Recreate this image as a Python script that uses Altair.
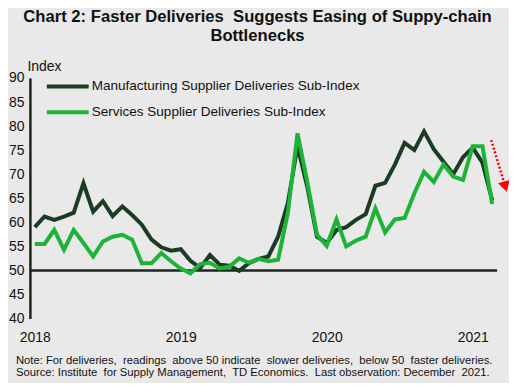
import altair as alt
import pandas as pd

# ---------------- data ----------------
series_names = [
    "Manufacturing Supplier Deliveries Sub-Index",
    "Services Supplier Deliveries Sub-Index",
]
series_colors = ["#1b3c24", "#1cb436"]

# monthly, Jan 2018 .. Dec 2021
manufacturing = [
    59.0, 61.2, 60.5, 61.2, 62.0, 68.1, 62.2, 64.4, 61.3, 63.3, 61.5, 59.5,
    56.4, 54.8, 54.1, 54.4, 52.0, 50.5, 53.2, 51.2, 51.0, 49.9, 51.5, 52.4,
    52.9, 57.0, 64.0, 75.8, 67.4, 57.0, 55.7, 58.4, 59.0, 60.5, 61.7, 67.6,
    68.2, 72.0, 76.5, 75.0, 78.9, 75.2, 72.6, 70.0, 73.5, 75.5, 72.4, 64.6,
]
services = [
    55.5, 55.5, 58.4, 54.3, 58.4, 55.7, 52.9, 56.0, 57.0, 57.4, 56.4, 51.5,
    51.5, 53.6, 51.9, 50.4, 49.4, 51.3, 51.6, 50.4, 50.8, 52.5, 51.6, 52.4,
    51.9, 52.2, 61.9, 78.5, 68.4, 57.4, 55.1, 60.6, 55.0, 56.2, 57.0, 62.9,
    57.9, 60.6, 60.9, 66.0, 70.5, 68.4, 72.0, 69.5, 68.8, 75.8, 75.8, 63.8,
]

x_tick_positions = [0, 15, 30, 45]
x_tick_labels = ["2018", "2019", "2020", "2021"]
y_ticks = [40, 45, 50, 55, 60, 65, 70, 75, 80, 85, 90]
baseline_value = [50]

arrow_x = [46.9, 48.35]
arrow_y = [77.1, 67.4]

title_lines = [
    "Chart 2: Faster Deliveries\u00a0 Suggests Easing of Suppy-chain",
    "Bottlenecks",
]
note_lines = [
    "Note: For deliveries,\u00a0 readings\u00a0 above 50 indicate\u00a0 slower deliveries,\u00a0 below 50\u00a0 faster deliveries.",
    "Source: Institute\u00a0 for Supply Management,\u00a0 TD Economics.\u00a0 Last observation: December\u00a0 2021.",
]

# ---------------- build ----------------
rows = []
for name, vals in zip(series_names, [manufacturing, services]):
    for i, v in enumerate(vals):
        rows.append({"month": i, "value": v, "series": name})
df = pd.DataFrame(rows)

W, H = 469, 241.5
FONT = "Liberation Sans"
AXIS_COLOR = "#1c261a"
TEXT_COLOR = "#111111"

x_scale = alt.Scale(domain=[-0.5, 47.5], nice=False, zero=False)
y_scale = alt.Scale(domain=[40, 90], nice=False, zero=False)
color_scale = alt.Scale(domain=series_names, range=series_colors)

label_expr = " : ".join(
    f"datum.value == {p} ? '{l}'" for p, l in zip(x_tick_positions, x_tick_labels)
) + " : ''"

x_axis = alt.Axis(
    values=x_tick_positions, labelExpr=label_expr, domain=False, ticks=False,
    grid=False, labelFontSize=14, labelPadding=12, labelColor=TEXT_COLOR,
    title=None, labelFont=FONT, labelOverlap=False,
)
y_axis = alt.Axis(
    values=y_ticks, tickCount=len(y_ticks), domain=True, domainColor=AXIS_COLOR,
    domainWidth=2.5, ticks=False, grid=False, labelFontSize=14, labelPadding=6,
    labelColor=TEXT_COLOR, labelFont=FONT, labelOverlap=False,
    title="Index", titleAngle=0, titleAlign="left", titleBaseline="alphabetic",
    titleX=-3, titleY=-7.5, titleFontSize=14, titleFontWeight="normal",
    titleColor=TEXT_COLOR, titleFont=FONT,
)

base_rule = alt.Chart(pd.DataFrame({"v": baseline_value})).mark_rule(
    color=AXIS_COLOR, strokeWidth=2.5
).encode(y=alt.Y("v:Q", scale=y_scale, axis=y_axis))

lines = alt.Chart(df).mark_line(strokeWidth=4).encode(
    x=alt.X("month:Q", scale=x_scale, axis=x_axis),
    y=alt.Y("value:Q", scale=y_scale, axis=y_axis),
    color=alt.Color("series:N", scale=color_scale, legend=None),
)

arrow_df = pd.DataFrame({"x": [arrow_x[0]], "y": [arrow_y[0]],
                         "x2": [arrow_x[1]], "y2": [arrow_y[1]]})
arrow_line = alt.Chart(arrow_df).mark_rule(
    color="#ff0000", strokeWidth=2.5, strokeDash=[2, 2]
).encode(
    x=alt.X("x:Q", scale=x_scale), y=alt.Y("y:Q", scale=y_scale),
    x2="x2:Q", y2="y2:Q",
)
arrow_head = alt.Chart(pd.DataFrame({"x": [arrow_x[1]], "y": [arrow_y[1]]})).mark_point(
    shape="triangle-down", filled=True, color="#ff0000", size=150, angle=344, opacity=1
).encode(x=alt.X("x:Q", scale=x_scale), y=alt.Y("y:Q", scale=y_scale))

legend_layers = []
for i, name in enumerate(series_names):
    ldf = pd.DataFrame({"series": [name]})
    yy = 8.5 + 26 * i
    legend_layers.append(
        alt.Chart(ldf).mark_rule(strokeWidth=4).encode(
            x=alt.value(17), x2=alt.value(59), y=alt.value(yy),
            color=alt.Color("series:N", scale=color_scale, legend=None),
        )
    )
    legend_layers.append(
        alt.Chart(ldf).mark_text(
            align="left", baseline="middle", fontSize=13.6, font=FONT, color=TEXT_COLOR
        ).encode(x=alt.value(62), y=alt.value(yy), text="series:N")
    )

note_layers = []
for i, line in enumerate(note_lines):
    note_layers.append(
        alt.Chart(pd.DataFrame({"t": [line]})).mark_text(
            align="left", baseline="middle", fontSize=11.3, font=FONT, color=TEXT_COLOR
        ).encode(x=alt.value(-14), y=alt.value(284.5 + 12 * i), text="t:N")
    )

chart = alt.layer(
    base_rule, lines, arrow_line, arrow_head, *legend_layers, *note_layers
).properties(
    width=W, height=H,
    padding={"left": 22, "top": 69.5, "right": 12, "bottom": 64},
    autosize=alt.AutoSizeParams(type="none"),
    background="#e9e9e9",
    title=alt.TitleParams(
        text=title_lines, fontSize=16.7, font=FONT, fontWeight="bold",
        anchor="middle", offset=15, dx=-6, color=TEXT_COLOR, lineHeight=19,
    ),
).configure_view(stroke=None)

chart.save("out.html", embed_options={"renderer": "svg", "actions": False})
